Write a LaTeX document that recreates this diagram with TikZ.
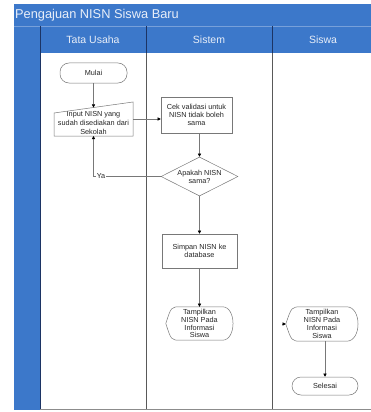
\documentclass[tikz,border=0pt]{standalone}
\usepackage{fontspec}
\setmainfont{Liberation Sans}
\usetikzlibrary{shapes.geometric,calc,arrows.meta}
\definecolor{laneblue}{RGB}{60,120,202}
\definecolor{lanedark}{RGB}{28,52,100}
\definecolor{hdrtext}{RGB}{232,238,248}
\definecolor{edge}{RGB}{120,120,120}
\tikzset{
  shapeline/.style={draw=edge,line width=0.5pt},
  txt/.style={font=\fontsize{7.3}{8}\selectfont,align=center,text=black!85,inner sep=0pt},
  procbox/.style={txt,shapeline,rectangle},
  termbox/.style={txt,shapeline,rectangle,rounded corners=9pt},
  decbox/.style={txt,shapeline,diamond,aspect=2},
  arr/.style={draw=edge,line width=0.5pt,-{Triangle[length=3.2pt,width=3.2pt,fill=black,color=black]}},
  hdr/.style={font=\fontsize{10.5}{12}\selectfont,text=hdrtext},
}
\newcommand{\mydisp}[2]{%
  \draw[shapeline] ($(#1.north west)+(0.22*#2,0)$) -- ($(#1.north east)+(-0.16*#2,0)$)
    .. controls ($(#1.north east)+(0.05*#2,0)$) and ($(#1.south east)+(0.05*#2,0)$) .. ($(#1.south east)+(-0.16*#2,0)$)
    -- ($(#1.south west)+(0.22*#2,0)$)
    .. controls ($(#1.south west)+(0.08*#2,0)$) .. (#1.west)
    .. controls ($(#1.north west)+(0.08*#2,0)$) .. ($(#1.north west)+(0.22*#2,0)$);}
\begin{document}
\begin{tikzpicture}[x=1pt,y=-1pt]
\useasboundingbox (0,0) rectangle (371,412);
\fill[white] (0,0) rectangle (371,412);
% pool
\fill[laneblue] (14,4) rectangle (371,53);
\fill[laneblue] (14,53) rectangle (40,410);
\draw[laneblue!70!white,line width=0.6pt] (14,26) -- (371,26);
\draw[lanedark,line width=0.8pt] (40,26) -- (40,410);
\draw[lanedark,line width=0.6pt] (146,26) -- (146,53);
\draw[lanedark,line width=0.6pt] (272,26) -- (272,53);
\draw[black!65,line width=0.6pt] (146,53) -- (146,409);
\draw[black!65,line width=0.6pt] (272,53) -- (272,409);
\draw[black!45,line width=0.8pt] (40,409.5) -- (371,409.5);
\node[anchor=west,font=\fontsize{12.8}{14}\selectfont,text=hdrtext,inner sep=0pt] (title) at (15,15) {Pengajuan NISN Siswa Baru};
\node[hdr] (h1) at (93,40) {Tata Usaha};
\node[hdr] (h2) at (209,40) {Sistem};
\node[hdr] (h3) at (323,40) {Siswa};
% nodes
\node[termbox,minimum width=67pt,minimum height=20pt] (mulai) at (93.5,73) {Mulai};
\node[txt,font=\fontsize{7.3}{9}\selectfont] (inp) at (93.5,123) {Input NISN yang\\sudah disediakan dari\\Sekolah};
\coordinate (itl) at (54,113);
\coordinate (itr) at (133,102);
\coordinate (ibr) at (133,136);
\coordinate (ibl) at (54,136);
\coordinate (itop) at (93.5,107.5);
\coordinate (ibot) at (93.5,136);
\coordinate (iright) at (133,119);
\draw[shapeline] (itl) -- (itr) -- (ibr) -- (ibl) -- cycle;
\node[procbox,minimum width=71pt,minimum height=36pt] (cek) at (196.5,115) {Cek validasi untuk\\NISN tidak boleh\\sama};
\node[decbox,minimum width=77pt,minimum height=39pt] (dia) at (199.5,176.5) {Apakah NISN\\sama?};
\node[procbox,minimum width=75pt,minimum height=34pt] (simpan) at (199.5,251) {Simpan NISN ke\\database};
\node[txt,font=\fontsize{7.3}{7.8}\selectfont,minimum width=67pt,minimum height=33pt] (tampa) at (199.5,323.5) {Tampilkan\\NISN Pada\\Informasi\\Siswa};
\mydisp{tampa}{67}
\node[txt,font=\fontsize{7.3}{7.8}\selectfont,minimum width=72pt,minimum height=34pt] (tampb) at (322,324) {Tampilkan\\NISN Pada\\Informasi\\Siswa};
\mydisp{tampb}{72}
\node[termbox,minimum width=66pt,minimum height=18pt] (selesai) at (325,386) {Selesai};
% connectors
\draw[arr] (mulai) -- (itop);
\draw[arr] (iright) -- (iright -| cek.west);
\draw[arr] (cek.south -| dia.north) -- (dia.north);
\draw[shapeline] (dia.west) -- (ibot |- dia.west);
\draw[arr] (ibot |- dia.west) -- (ibot);
\node[txt,fill=white,inner xsep=1pt] (ya) at (101,176.5) {Ya};
\draw[arr] (dia.south) -- (simpan.north);
\draw[arr] (simpan.south) -- (tampa.north);
\coordinate (tbin) at ($(tampb.west)+(-3.6,0)$);
\draw[arr] (tbin) -- (tampb.west);
\draw[arr] (tampb.south -| selesai.north) -- (selesai.north);
\end{tikzpicture}
\end{document}
